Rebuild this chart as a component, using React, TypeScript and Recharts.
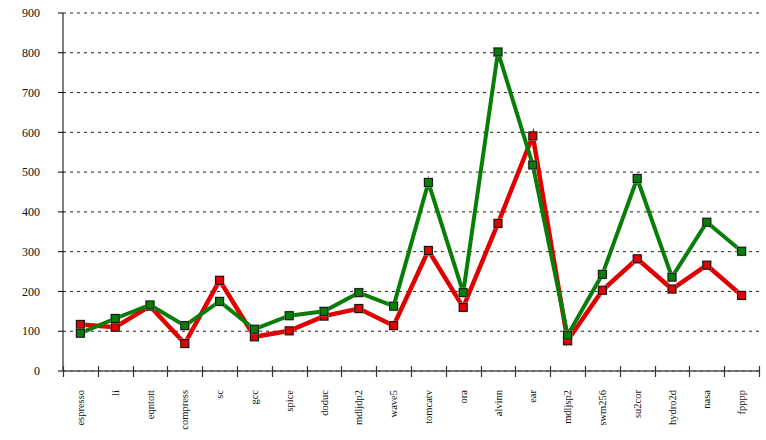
import { CartesianGrid, Line, LineChart, XAxis, YAxis } from "recharts";

const benchmarks = [
    "espresso", "li", "eqntott", "compress", "sc", "gcc", "spice", "doduc", "mdljdp2", "wave5",
    "tomcatv", "ora", "alvinn", "ear", "mdljsp2", "swm256", "su2cor", "hydro2d", "nasa", "fpppp",
];
const redValues = [117, 110, 163, 69, 228, 86, 101, 138, 157, 114, 303, 160, 371, 591, 76, 203, 282, 206, 266, 190];
const greenValues = [95, 132, 166, 114, 175, 105, 139, 150, 197, 163, 474, 197, 802, 518, 90, 243, 484, 236, 374, 301];
const yTicks = [0, 100, 200, 300, 400, 500, 600, 700, 800, 900];

const data = benchmarks.map((name, i) => ({ name, red: redValues[i], green: greenValues[i] }));

const BAND = 696 / benchmarks.length;

const SquareDot = (color: string) => (props: any) => {
    const { cx, cy, index } = props;
    if (cx == null || cy == null) return null;
    return (
        <g key={`d-${index}`}>
            <rect x={cx - 5} y={cy - 5} width={10} height={10} fill="#bbb" opacity={0.7} />
            <rect x={cx - 4} y={cy - 4} width={8} height={8} fill={color} stroke="#111" strokeWidth={1} />
        </g>
    );
};

const XTick = (props: any) => {
    const x = Number(props.x);
    const y = Number(props.y);
    const right = Math.round(x + BAND / 2) + 0.5;
    return (
        <g>
            <line x1={right} y1={y - 5} x2={right} y2={y + 6} stroke="#333" strokeWidth={1.2} />
            {props.index === 0 && (
                <line x1={x - BAND / 2 + 0.5} y1={y - 5} x2={x - BAND / 2 + 0.5} y2={y + 6} stroke="#333" strokeWidth={1.2} />
            )}
            <text
                transform={`translate(${x + 3.5},${y + 19}) rotate(-90)`}
                textAnchor="end"
                fontSize={10.5}
                fontFamily="Liberation Serif"
                fill="#111"
            >
                {props.payload.value}
            </text>
        </g>
    );
};

const App = () => {
    return (
        <div style={{ width: 766, height: 440 }}>
            <style>{"body{margin:0}"}</style>
            <LineChart width={766} height={440} data={data} margin={{ top: 13, right: 7, left: 0, bottom: 0 }}>
                <CartesianGrid vertical={false} stroke="#222" strokeDasharray="3 4" />
                <XAxis
                    dataKey="name"
                    interval={0}
                    height={69}
                    padding={{ left: BAND / 2, right: BAND / 2 }}
                    tickLine={false}
                    tickSize={0}
                    tickMargin={0}
                    stroke="#555"
                    strokeWidth={1.5}
                    tick={<XTick />}
                />
                <YAxis
                    domain={[0, 900]}
                    ticks={yTicks}
                    width={63}
                    tickSize={5}
                    tickMargin={18}
                    stroke="#000"
                    tick={{ fontSize: 12, fontFamily: "Liberation Serif", fill: "#111" }}
                />
                <Line
                    dataKey="red"
                    stroke="#e00000"
                    strokeWidth={4.5}
                    dot={SquareDot("#e00000")}
                    isAnimationActive={false}
                />
                <Line
                    dataKey="green"
                    stroke="#087d08"
                    strokeWidth={4}
                    dot={SquareDot("#087d08")}
                    isAnimationActive={false}
                />
            </LineChart>
        </div>
    );
};

export default App;
